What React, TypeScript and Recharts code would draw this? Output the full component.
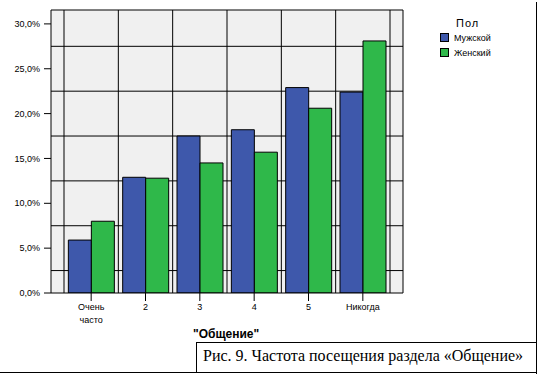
import React from 'react';
import { BarChart, Bar, XAxis, YAxis, CartesianGrid, Legend } from 'recharts';

const categories = ['Очень часто', '2', '3', '4', '5', 'Никогда'];
const male = [5.9, 12.9, 17.5, 18.2, 22.9, 22.4];
const female = [8.0, 12.8, 14.5, 15.7, 20.6, 28.1];
const yTicks = [0, 5, 10, 15, 20, 25, 30];
const gridValues = [2.5, 7.5, 12.5, 17.5, 22.5, 27.5];

const seriesNames = ['Мужской', 'Женский'];
const legendTitle = 'Пол';
const axisTitle = '"Общение"';
const caption = 'Рис. 9. Частота посещения раздела «Общение»';

const data = categories.map((c, i) => ({ name: c, male: male[i], female: female[i] }));

const BLUE = '#3e58ab';
const GREEN = '#2fb84a';
const seriesColors = [BLUE, GREEN];
const Y_MAX = 31.55;
const X_PAD = 13;
const font = 'Arial, "Liberation Sans", sans-serif';

function CategoryTick(props: any) {
  const { x, y, payload } = props;
  const lines = String(payload.value).split(' ');
  return (
    <text x={x} y={y} textAnchor="middle" fontSize={9} fill="#000" fontFamily={font}>
      {lines.map((l, i) => (
        <tspan key={i} x={x} dy={i === 0 ? 7 : 13}>
          {l}
        </tspan>
      ))}
    </text>
  );
}

// легенда в порядке серий, как в оригинале
function LegendBox() {
  return (
    <div style={{ fontFamily: font, color: '#000' }}>
      <div style={{ fontSize: 11, letterSpacing: 1, marginLeft: 16, height: 14, lineHeight: '14px' }}>
        {legendTitle}
      </div>
      {seriesNames.map((n, i) => (
        <div key={n} style={{ display: 'flex', alignItems: 'center', height: 15, fontSize: 9 }}>
          <span
            style={{
              width: 7,
              height: 7,
              background: seriesColors[i],
              border: '1px solid #000',
              marginRight: 5,
              display: 'inline-block',
            }}
          />
          {n}
        </div>
      ))}
    </div>
  );
}

export default function App() {
  return (
    <div
      style={{
        position: 'absolute',
        left: 0,
        top: 0,
        width: 540,
        height: 375,
        background: '#fff',
        fontFamily: font,
      }}
    >
      <BarChart
        width={540}
        height={375}
        data={data}
        margin={{ top: 10, right: 137, bottom: 52, left: 6 }}
        barCategoryGap="8%"
        barGap={0}
      >
        <CartesianGrid
          fill="#f0f0f0"
          stroke="#000"
          strokeWidth={1}
          horizontalCoordinatesGenerator={({ yAxis, offset }: any) => {
            const s = yAxis && typeof yAxis.scale === 'function' ? yAxis.scale : null;
            const pts = gridValues.map((v) =>
              s ? s(v) : offset.top + offset.height * (1 - v / Y_MAX)
            );
            return [offset.top, ...pts];
          }}
          verticalCoordinatesGenerator={({ offset }: any) => {
            const band = (offset.width - 2 * X_PAD) / categories.length;
            const pts = [];
            for (let i = 0; i <= categories.length; i++) pts.push(offset.left + X_PAD + i * band);
            return [...pts, offset.left + offset.width];
          }}
        />
        <XAxis
          dataKey="name"
          padding={{ left: X_PAD, right: X_PAD }}
          height={30}
          tickSize={8}
          tickMargin={2}
          interval={0}
          axisLine={{ stroke: '#000' }}
          tickLine={{ stroke: '#000' }}
          tick={<CategoryTick />}
        />
        <YAxis
          width={45}
          domain={[0, Y_MAX]}
          ticks={yTicks}
          allowDataOverflow
          tickSize={7}
          tickMargin={4}
          axisLine={{ stroke: '#000' }}
          tickLine={{ stroke: '#000' }}
          tick={{ fontSize: 9, fill: '#000', fontFamily: font }}
          tickFormatter={(v: number) => v.toFixed(1).replace('.', ',') + '%'}
        />
        <Legend
          layout="horizontal"
          verticalAlign="middle"
          align="center"
          content={<LegendBox />}
          wrapperStyle={{ position: 'absolute', left: 440, top: 16, width: 90, height: 46 }}
        />
        <Bar dataKey="male" name={seriesNames[0]} fill={BLUE} stroke="#000" strokeWidth={1} isAnimationActive={false} />
        <Bar dataKey="female" name={seriesNames[1]} fill={GREEN} stroke="#000" strokeWidth={1} isAnimationActive={false} />
      </BarChart>

      <div
        style={{
          position: 'absolute',
          left: 193,
          top: 327,
          fontSize: 12,
          fontWeight: 'bold',
          fontFamily: font,
          lineHeight: '14px',
        }}
      >
        {axisTitle}
      </div>

      <div style={{ position: 'absolute', left: 536, top: 2, width: 1, height: 372, background: '#000' }} />
      <div style={{ position: 'absolute', left: 0, top: 372, width: 537, height: 1, background: '#000' }} />
      <div
        style={{
          position: 'absolute',
          left: 196,
          top: 342,
          width: 340,
          height: 30,
          borderTop: '1px solid #000',
          borderLeft: '1px solid #000',
          boxSizing: 'border-box',
          fontFamily: '"Liberation Serif", "Times New Roman", serif',
          fontSize: 16,
          lineHeight: '26px',
          paddingLeft: 6,
          whiteSpace: 'nowrap',
        }}
      >
        {caption}
      </div>
    </div>
  );
}
